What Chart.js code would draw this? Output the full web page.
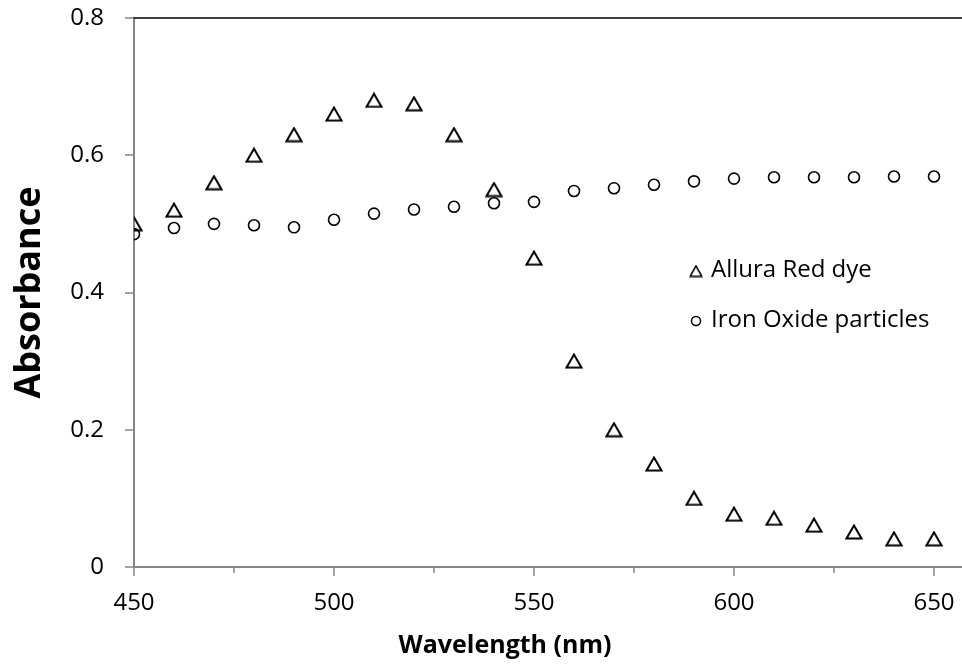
<!DOCTYPE html>
<html>
<head>
<meta charset="utf-8">
<script src="https://cdn.jsdelivr.net/npm/chart.js@4/dist/chart.umd.min.js"></script>
<style>
html,body{margin:0;padding:0;background:#fff;}
#wrap{width:962px;height:665px;position:relative;}
</style>
</head>
<body>
<div id="wrap"><canvas id="c" width="962" height="665"></canvas></div>
<script>
const wavelengths = [450,460,470,480,490,500,510,520,530,540,550,560,570,580,590,600,610,620,630,640,650];
const alluraRed = [0.50,0.52,0.56,0.60,0.63,0.66,0.68,0.675,0.63,0.55,0.45,0.30,0.20,0.15,0.10,0.077,0.071,0.061,0.051,0.041,0.041];
const ironOxide = [0.485,0.494,0.50,0.498,0.495,0.506,0.515,0.521,0.525,0.53,0.532,0.548,0.552,0.557,0.562,0.566,0.568,0.568,0.568,0.569,0.569];
const seriesNames = ['Allura Red dye','Iron Oxide particles'];
const xTickValues = [450,500,550,600,650];
const xMinorTicks = [475,525,575,625];
const yTicks = [0,0.2,0.4,0.6,0.8];
const xTitle = 'Wavelength (nm)';
const yTitle = 'Absorbance';

const FONT = "'Open Sans', 'Noto Sans', sans-serif";
const axisGray = '#868686';

function pts(xs, ys){ return xs.map((x,i)=>({x:x,y:ys[i]})); }

// open triangle marker centred in its bounding box (as spreadsheet markers are)
function triangleMarker(w, h, lw){
  const cv = document.createElement('canvas');
  cv.width = w; cv.height = h;
  const c = cv.getContext('2d');
  const p = lw/2 + 0.5;
  c.strokeStyle = '#000'; c.lineWidth = lw; c.lineJoin = 'miter';
  c.beginPath();
  c.moveTo(w/2, p);
  c.lineTo(w - p, h - p);
  c.lineTo(p, h - p);
  c.closePath();
  c.stroke();
  return cv;
}
const triBig = triangleMarker(18, 16, 2);
const triSmall = triangleMarker(14, 13, 1.6);

const extras = {
  id:'extras',
  afterDraw(chart){
    const ctx = chart.ctx, a = chart.chartArea, xs = chart.scales.x, ys = chart.scales.y;
    ctx.save();
    // top border line
    ctx.strokeStyle = '#000'; ctx.lineWidth = 1.5;
    ctx.beginPath(); ctx.moveTo(a.left - 1, a.top); ctx.lineTo(962, a.top); ctx.stroke();
    // x ticks (major + minor)
    ctx.strokeStyle = axisGray; ctx.lineWidth = 1.5;
    xTickValues.forEach(v=>{
      const px = Math.round(xs.getPixelForValue(v));
      ctx.beginPath(); ctx.moveTo(px, a.bottom); ctx.lineTo(px, a.bottom + 9); ctx.stroke();
    });
    xMinorTicks.forEach(v=>{
      const px = Math.round(xs.getPixelForValue(v));
      ctx.beginPath(); ctx.moveTo(px, a.bottom); ctx.lineTo(px, a.bottom + 6); ctx.stroke();
    });
    // y ticks
    yTicks.forEach(v=>{
      const py = Math.round(ys.getPixelForValue(v));
      ctx.beginPath(); ctx.moveTo(a.left - 9, py); ctx.lineTo(a.left, py); ctx.stroke();
    });
    // x title
    ctx.fillStyle = '#000';
    ctx.font = "bold 25px " + FONT;
    ctx.textAlign = 'center'; ctx.textBaseline = 'alphabetic';
    ctx.fillText(xTitle, 505, 653);
    // legend
    const items = [
      {style:triSmall, r:7, y:271},
      {style:'circle', r:4.5, y:321}
    ];
    ctx.font = "24px " + FONT;
    ctx.textAlign = 'left'; ctx.textBaseline = 'middle';
    items.forEach((it,i)=>{
      ctx.strokeStyle = '#000'; ctx.lineWidth = 1.5; ctx.fillStyle = 'rgba(0,0,0,0)';
      Chart.helpers.drawPoint(ctx, {pointStyle:it.style, radius:it.r, borderWidth:1.5}, 696, it.y);
      ctx.fillStyle = '#000';
      ctx.fillText(chart.data.datasets[i].label, 711, it.y - 1);
    });
    ctx.restore();
  }
};

new Chart(document.getElementById('c'), {
  type:'scatter',
  data:{
    datasets:[
      {label:seriesNames[0], data:pts(wavelengths, alluraRed), pointStyle:triBig, pointRadius:9, pointHoverRadius:9,
       borderColor:'#000', backgroundColor:'rgba(0,0,0,0)', pointBorderWidth:1.8},
      {label:seriesNames[1], data:pts(wavelengths, ironOxide), pointStyle:'circle', pointRadius:5.5, pointHoverRadius:5.5,
       borderColor:'#000', backgroundColor:'rgba(0,0,0,0)', pointBorderWidth:1.6}
    ]
  },
  options:{
    responsive:false,
    animation:false,
    layout:{autoPadding:false, padding:{left:0,right:0,top:18,bottom:0}},
    plugins:{legend:{display:false}, tooltip:{enabled:false}},
    scales:{
      x:{
        type:'linear', min:450, max:657,
        afterBuildTicks(scale){ scale.ticks = xTickValues.map(v=>({value:v})); },
        afterFit(scale){ scale.height = 98; scale.paddingLeft = 0; scale.paddingRight = 0; },
        ticks:{color:'#000', font:{family:FONT, size:24}, padding:0, maxRotation:0, autoSkip:false},
        grid:{drawOnChartArea:false, tickLength:22, tickColor:'rgba(0,0,0,0)'},
        border:{color:axisGray, width:2},
        title:{display:false}
      },
      y:{
        type:'linear', min:0, max:0.8,
        afterBuildTicks(scale){ scale.ticks = yTicks.map(v=>({value:v})); },
        afterFit(scale){ scale.width = 134; scale.paddingTop = 0; scale.paddingBottom = 0; },
        ticks:{color:'#000', font:{family:FONT, size:24}, padding:0},
        grid:{drawOnChartArea:false, tickLength:30, tickColor:'rgba(0,0,0,0)'},
        border:{color:axisGray, width:2},
        title:{display:true, text:yTitle, color:'#000', font:{family:FONT, size:36, weight:'bold'}, padding:{top:8,bottom:6}}
      }
    }
  },
  plugins:[extras]
});
</script>
</body>
</html>
